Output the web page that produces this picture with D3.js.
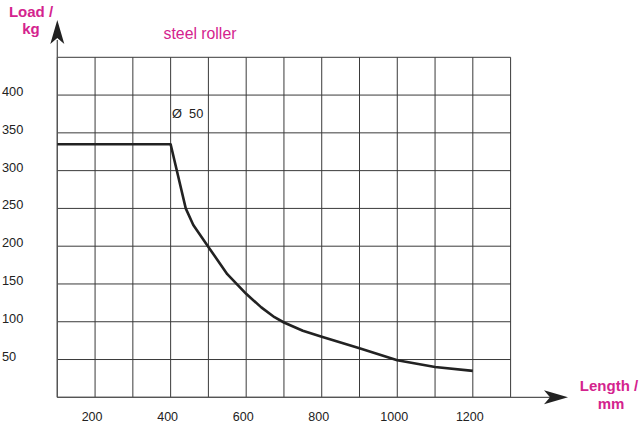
<!DOCTYPE html>
<html>
<head>
<meta charset="utf-8">
<script src="https://cdn.jsdelivr.net/npm/d3@7"></script>
<style>
  html, body { margin: 0; padding: 0; background: #fff; }
  svg { display: block; font-family: "Liberation Sans", Arial, sans-serif; }
</style>
</head>
<body>
<svg id="chart" width="642" height="428"></svg>
<script>
// ---- data ----
const lengths = [100, 400, 440, 460, 500, 550, 600, 640, 675, 700, 750, 800, 900, 1000, 1100, 1200];
const loads   = [335, 335, 250, 228, 199, 163, 137, 119, 106, 99, 88, 80, 65, 49, 40, 35];
const xTicks = [200, 400, 600, 800, 1000, 1200];
const yTicks = [50, 100, 150, 200, 250, 300, 350, 400];
const xGrid = d3.range(100, 1301, 100);
const yGrid = d3.range(0, 451, 50);
const title = "steel roller";
const annotation = "Ø  50";
const yTitle = ["Load /", "kg"];
const xTitle = ["Length /", "mm"];

const magenta = "#d4238e";
const svg = d3.select("#chart");

const x = d3.scaleLinear().domain([100, 1300]).range([57.3, 510.6]);
const y = d3.scaleLinear().domain([0, 450]).range([397.3, 57.3]);

// grid
const g = svg.append("g").attr("stroke", "#3a3a3a").attr("stroke-width", 1);
g.selectAll("line.v").data(xGrid).join("line")
  .attr("x1", d => x(d)).attr("x2", d => x(d))
  .attr("y1", y(0)).attr("y2", y(450));
g.selectAll("line.h").data(yGrid).join("line")
  .attr("y1", d => y(d)).attr("y2", d => y(d))
  .attr("x1", x(100)).attr("x2", x(1300));

// axes lines with arrows
svg.append("line").attr("x1", x(100)).attr("x2", x(100))
  .attr("y1", y(0)).attr("y2", 40).attr("stroke", "#555").attr("stroke-width", 1.3);
svg.append("line").attr("x1", x(100)).attr("x2", 550)
  .attr("y1", y(0)).attr("y2", y(0)).attr("stroke", "#555").attr("stroke-width", 1.3);

const ax = x(100), ay = y(0);
svg.append("path")
  .attr("d", `M${ax},20 L${ax + 7},44 L${ax},38 L${ax - 7},44 Z`)
  .attr("fill", "#222");
svg.append("path")
  .attr("d", `M568,${ay} L544,${ay - 7} L550,${ay} L544,${ay + 7} Z`)
  .attr("fill", "#222");

// tick labels
svg.append("g").selectAll("text").data(xTicks).join("text")
  .attr("x", d => x(d) - 3).attr("y", 421)
  .attr("text-anchor", "middle").attr("font-size", 12.5).attr("fill", "#222")
  .text(d => d);
svg.append("g").selectAll("text").data(yTicks).join("text")
  .attr("x", 2).attr("y", d => y(d) + 1)
  .attr("text-anchor", "start").attr("font-size", 12.8).attr("fill", "#222")
  .text(d => d);

// curve
const pts = lengths.map((l, i) => [l, loads[i]]);
svg.append("path").datum(pts)
  .attr("d", d3.line().x(d => x(d[0])).y(d => y(d[1])))
  .attr("fill", "none").attr("stroke", "#222").attr("stroke-width", 2.6)
  .attr("stroke-linejoin", "round");

// texts
svg.append("text").attr("x", 200).attr("y", 39).attr("text-anchor", "middle")
  .attr("font-size", 15.8).attr("fill", magenta).text(title);
svg.append("text").attr("x", 172).attr("y", 118).attr("font-size", 12.8)
  .attr("fill", "#222").attr("xml:space", "preserve").style("white-space", "pre").text(annotation);

svg.append("text").attr("x", 31).attr("y", 16.5).attr("text-anchor", "middle")
  .attr("font-size", 15).attr("font-weight", "bold").attr("fill", magenta).text(yTitle[0]);
svg.append("text").attr("x", 31).attr("y", 33.5).attr("text-anchor", "middle")
  .attr("font-size", 15).attr("font-weight", "bold").attr("fill", magenta).text(yTitle[1]);

svg.append("text").attr("x", 609).attr("y", 391).attr("text-anchor", "middle")
  .attr("font-size", 15).attr("font-weight", "bold").attr("fill", magenta).text(xTitle[0]);
svg.append("text").attr("x", 611).attr("y", 409).attr("text-anchor", "middle")
  .attr("font-size", 15).attr("font-weight", "bold").attr("fill", magenta).text(xTitle[1]);
</script>
</body>
</html>
